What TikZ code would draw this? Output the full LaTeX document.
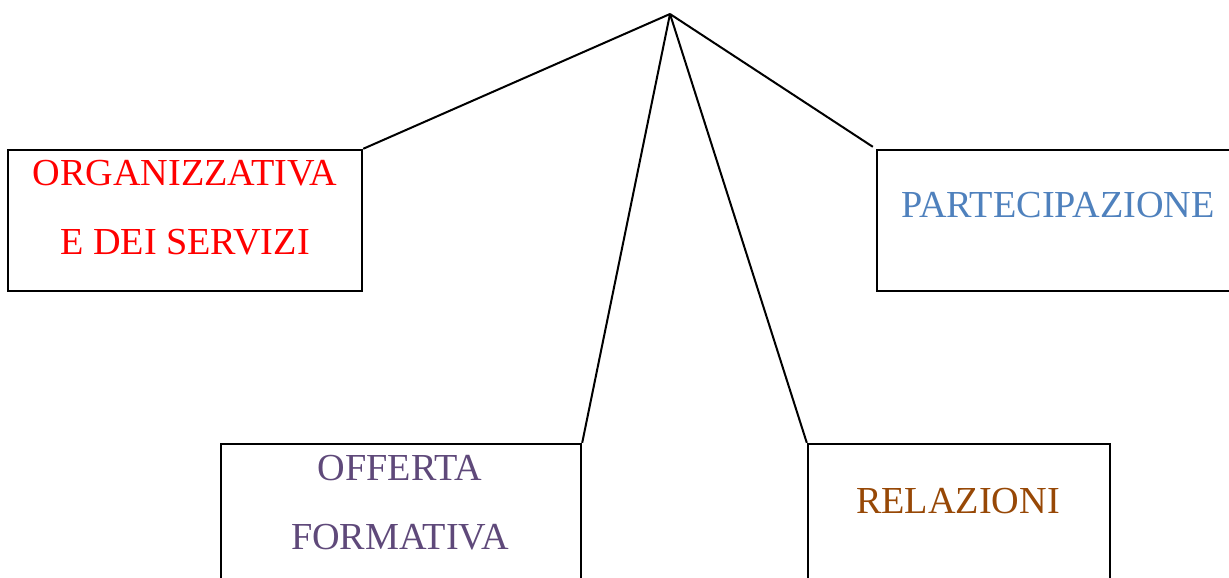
\documentclass[tikz,border=0pt]{standalone}
\usepackage{fontspec}
\setmainfont{Liberation Serif}
\definecolor{orgred}{HTML}{FF0000}
\definecolor{partblue}{HTML}{4F81BD}
\definecolor{offpurple}{HTML}{5F497A}
\definecolor{relbrown}{HTML}{974806}
\begin{document}
\begin{tikzpicture}[x=1pt,y=-1pt,
  box/.style={draw=black,line width=2.4pt,minimum height=141pt,inner sep=0pt},
  conn/.style={draw=black,line width=2pt},
  lbl/.style={anchor=base,inner sep=0pt,font=\fontsize{38.2}{42}\selectfont}]
\useasboundingbox (0,0) rectangle (1229,578);
\clip (0,0) rectangle (1229,578);
\coordinate (apex) at (670,14);
\node[box,minimum width=354pt] (org) at (185,220.5) {};
\node[box,minimum width=362pt] (part) at (1058,220.5) {};
\node[box,minimum width=360pt] (off) at (401,514.5) {};
\node[box,minimum width=302pt] (rel) at (959,514.5) {};
\node[lbl,text=orgred] (t1) at (185,185) {ORGANIZZATIVA};
\node[lbl,text=orgred] (t2) at (185,254) {E DEI SERVIZI};
\node[lbl,text=partblue] (t3) at (1058,217) {PARTECIPAZIONE};
\node[lbl,text=offpurple] (t4) at (400,480) {OFFERTA};
\node[lbl,text=offpurple] (t5) at (400,549) {FORMATIVA};
\node[lbl,text=relbrown] (t6) at (958,513) {RELAZIONI};
\draw[conn] (apex) -- (org.north east);
\draw[conn] (apex) -- ([xshift=-3pt,yshift=2pt]part.north west);
\draw[conn] (apex) -- (off.north east);
\draw[conn] (apex) -- (rel.north west);
\end{tikzpicture}
\end{document}
